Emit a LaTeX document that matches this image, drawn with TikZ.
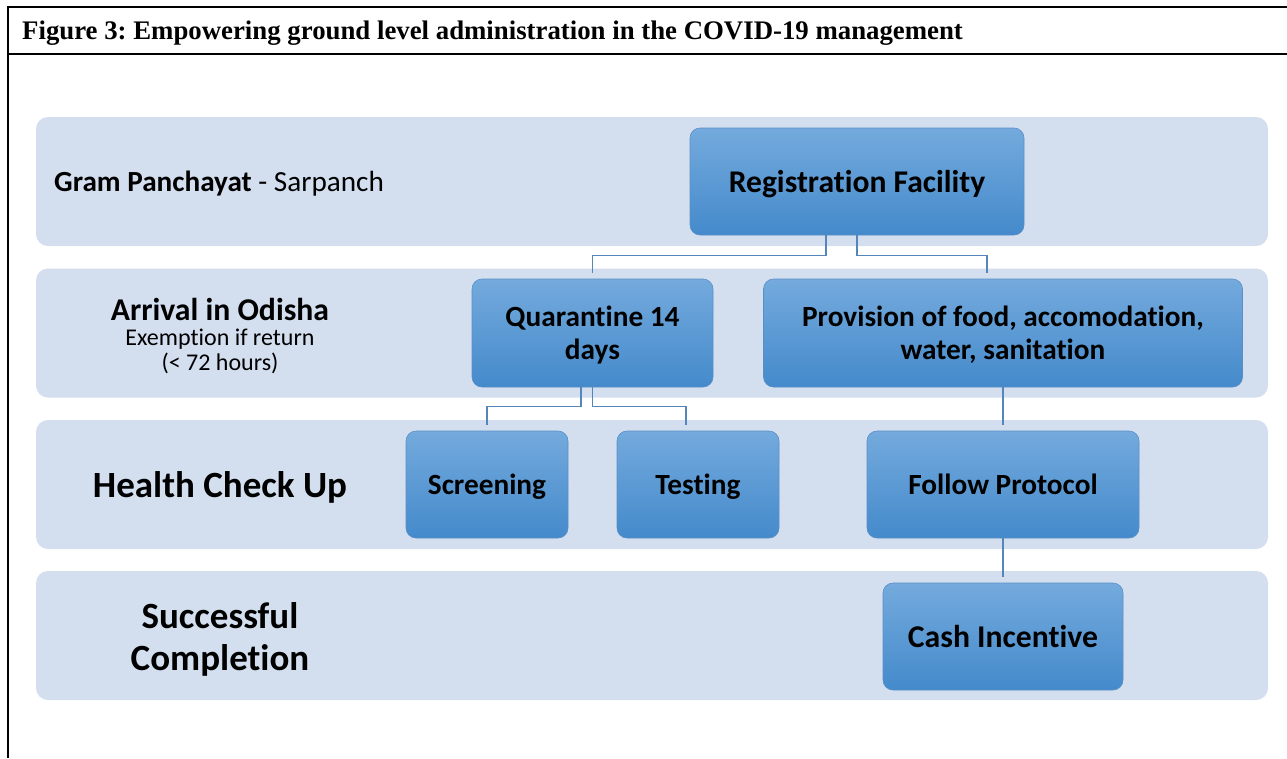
\documentclass[tikz,border=0pt]{standalone}
\usepackage{fontspec}
\setmainfont{Liberation Serif}
\newfontfamily\calib[Ligatures=NoCommon]{Carlito}
\usepackage{tikz}
\usetikzlibrary{calc}
\frenchspacing
\definecolor{bandblue}{RGB}{211,222,239}
\definecolor{boxtop}{RGB}{116,170,221}
\definecolor{boxbot}{RGB}{68,138,203}
\definecolor{boxline}{RGB}{90,143,198}
\definecolor{linkblue}{RGB}{84,134,188}
\tikzset{
  band/.style={fill=bandblue, rounded corners=12pt, minimum width=1232pt, minimum height=129pt, inner sep=0pt},
  item/.style={top color=boxtop, bottom color=boxbot, draw=boxline, line width=0.6pt, rounded corners=10pt,
    align=center, inner sep=0pt, text depth=0pt, font=\calib\bfseries\fontsize{29.3}{33}\selectfont},
  rowlabel/.style={align=center, inner sep=0pt, font=\calib\bfseries\fontsize{37}{42}\selectfont},
  link/.style={draw=linkblue, line width=1.3pt},
  rule/.style={line width=2.2pt}
}

\begin{document}
\begin{tikzpicture}[x=1pt,y=-1pt]
	 \useasboundingbox (0,0) rectangle (1287,758);
	 \draw[rule] (8,758) -- (8,7) -- (1287,7);
	 \draw[rule] (8,54) -- (1287,54);
	 \node[anchor=west, inner sep=0pt, font=\bfseries\fontsize{26.8}{30}\selectfont] (title) at (22,33) {Figure 3: Empowering ground level administration in the COVID-19 management};
	 \foreach \i/\y in {1/181.5,2/333,3/484.5,4/635.5}
	   \node[band] (band\i) at (652,\y) {};
	 \node[anchor=west, inner sep=0pt, font=\calib\fontsize{29.2}{35}\selectfont] (gp) at (54,184) {\textbf{Gram Panchayat} - Sarpanch};
	 \node[inner sep=0pt, font=\calib\bfseries\fontsize{31.7}{36}\selectfont] (arrival) at (220,309) {Arrival in Odisha};
	 \node[align=center, inner sep=0pt, font=\calib\fontsize{24}{25}\selectfont] (exempt) at (220,351) {Exemption if return\\(< 72 hours)};
	 \node[rowlabel] (health) at (220,487) {Health Check Up};
	 \node[rowlabel] (success) at (220,639) {Successful\\Completion};
	 \node[item, minimum width=334pt, minimum height=107pt, font=\calib\bfseries\fontsize{31.6}{36}\selectfont] (reg) at (857,181.5) {Registration Facility};
	 \node[item, minimum width=241pt, minimum height=108pt] (quar) at (592.5,333) {Quarantine 14\\days};
	 \node[item, minimum width=479pt, minimum height=108pt] (prov) at (1003,333) {Provision of food, accomodation,\\water, sanitation};
	 \node[item, minimum width=162pt, minimum height=107pt] (scr) at (487,484.5) {Screening};
	 \node[item, minimum width=162pt, minimum height=107pt] (test) at (698,484.5) {Testing};
	 \node[item, minimum width=272pt, minimum height=107pt] (follow) at (1003,484.5) {Follow Protocol};
	 \node[item, minimum width=240pt, minimum height=107pt, font=\calib\bfseries\fontsize{31.7}{36}\selectfont] (cash) at (1003,636.5) {Cash Incentive};
	 \draw[link] ($(reg.south)+(-31,0)$) -- ++(0,20) -| ($(quar.north)+(0,-6)$);
	 \draw[link] (reg.south) -- ++(0,20) -| ($(prov.north)+(-16,-6)$);
	 \draw[link] ($(quar.south)+(-11.5,0)$) -- ++(0,19) -| ($(scr.north)+(0,-6)$);
	 \draw[link] (quar.south) -- ++(0,19) -| ($(test.north)+(-12,-6)$);
	 \draw[link] (prov.south) -- ($(follow.north)+(0,-6)$);
	 \draw[link] (follow.south) -- ($(cash.north)+(0,-6)$);
\end{tikzpicture}
\end{document}
